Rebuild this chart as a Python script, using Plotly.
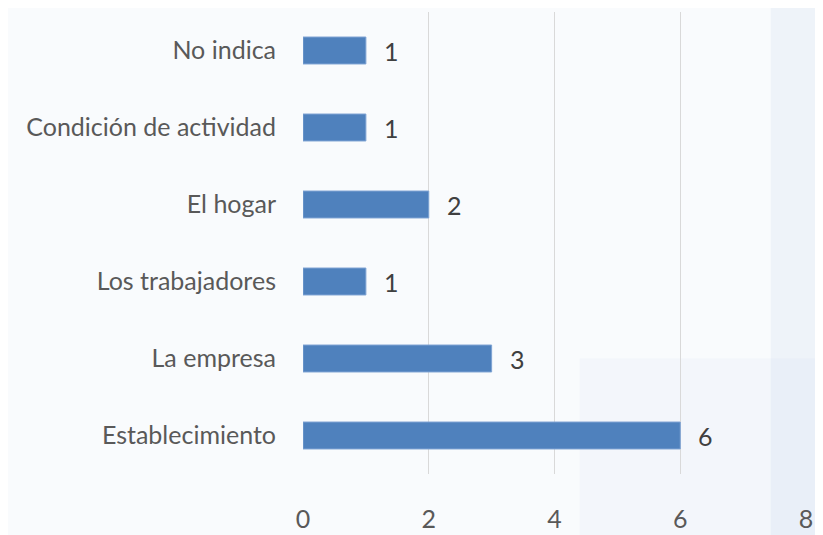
import plotly.graph_objects as go

categories = ["Establecimiento", "La empresa", "Los trabajadores", "El hogar",
              "Condición de actividad", "No indica"]
values = [6, 3, 1, 2, 1, 1]
x_ticks = [0, 2, 4, 6, 8]

FONT = "Lato, 'Open Sans', sans-serif"
TXT = "#595959"
FS = 25

fig = go.Figure()
fig.add_trace(go.Bar(
    y=categories, x=values, orientation="h",
    marker=dict(color="#4f81bd", line=dict(color="#7ea3d3", width=1)),
    width=0.35, hoverinfo="skip",
))
for c, v in zip(categories, values):
    fig.add_annotation(x=v, y=c, text=str(v), showarrow=False, xanchor="left",
                       xshift=16, font=dict(family=FONT, size=FS, color="#404040"))

# subtle bluish tint on the right side of the background
fig.add_shape(type="rect", xref="paper", yref="paper", x0=0.93, x1=1.05, y0=-0.15, y1=1.05,
              fillcolor="rgba(200,215,235,0.22)", line=dict(width=0), layer="below")
fig.add_shape(type="rect", xref="paper", yref="paper", x0=0.55, x1=1.05, y0=-0.15, y1=0.25,
              fillcolor="rgba(210,222,240,0.15)", line=dict(width=0), layer="below")

fig.update_layout(
    template="none",
    width=815, height=527,
    margin=dict(l=295, r=17, t=4, b=61),
    paper_bgcolor="#f9fbfd", plot_bgcolor="rgba(0,0,0,0)",
    showlegend=False,
    font=dict(family=FONT, size=FS, color=TXT),
    xaxis=dict(range=[0, 8], tickvals=x_ticks, showgrid=True, gridcolor="#d9d9d9",
               gridwidth=1, zeroline=False, showline=False, ticks="outside",
               ticklen=23, tickcolor="rgba(0,0,0,0)", automargin=False,
               tickfont=dict(family=FONT, size=FS, color=TXT)),
    yaxis=dict(categoryorder="array", categoryarray=categories, showgrid=False,
               zeroline=False, showline=False, ticks="outside", ticklen=21,
               tickcolor="rgba(0,0,0,0)", automargin=False,
               tickfont=dict(family=FONT, size=FS, color=TXT)),
)
fig.write_html("out.html")
